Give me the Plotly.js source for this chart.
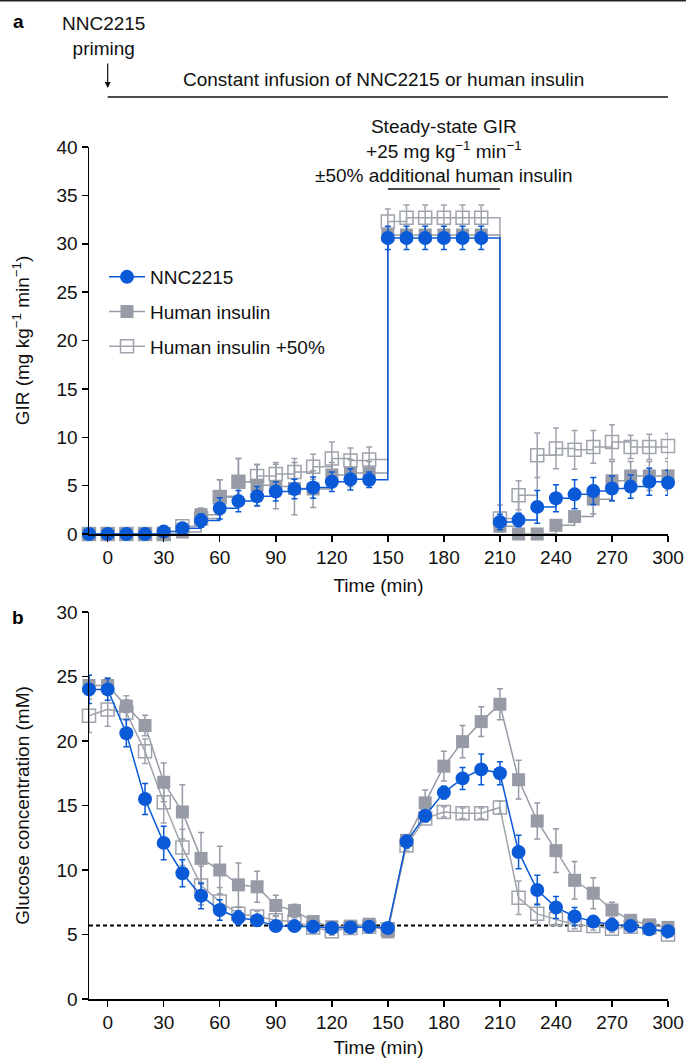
<!DOCTYPE html>
<html>
<head>
<meta charset="utf-8">
<script src="https://cdn.plot.ly/plotly-3.0.1.min.js"></script>
<style>
  html, body { margin: 0; padding: 0; background: #fff; }
  #chart { width: 686px; height: 1058px; }
</style>
</head>
<body>
<div id="chart"></div>
<script>
// Sampling times (min), shared by both panels
const timeMin = [-10, 0, 10, 20, 30, 40, 50, 60, 70, 80, 90, 100, 110, 120, 130, 140,
                 150, 160, 170, 180, 190, 200, 210, 220, 230, 240, 250, 260, 270, 280, 290, 300];

// Panel a: glucose infusion rate (mg kg-1 min-1), mean and error
const girNNC = [0, 0, 0, 0, 0.25, 0.6, 1.4, 2.65, 3.4, 3.9, 4.4, 4.65, 4.8, 5.4, 5.65, 5.6,
                30.6, 30.6, 30.6, 30.6, 30.6, 30.6, 1.25, 1.45, 2.8, 3.7, 4.1, 4.45, 4.7, 4.9, 5.4, 5.3];
const girNNCErr = [0, 0, 0, 0, 0.2, 0.4, 0.7, 1.1, 1.1, 1.0, 1.0, 1.0, 1.1, 1.0, 1.1, 0.8,
                   1.2, 1.2, 1.2, 1.2, 1.2, 1.2, 0.8, 0.7, 1.7, 1.4, 1.5, 1.4, 1.3, 1.2, 1.4, 1.3];
const girHI = [0, 0, 0, 0, 0, 0.2, 2.0, 3.9, 5.4, 5.05, 4.9, 4.7, 4.65, 6.1, 6.3, 6.3,
               30.9, 30.9, 30.9, 30.9, 30.9, 30.9, 0.8, 0, 0, 0.9, 1.8, 3.6, 5.5, 6.0, 6.0, 6.0];
const girHIErr = [0, 0, 0, 0, 0, 0.3, 0.7, 1.7, 2.4, 2.1, 2.3, 2.7, 1.9, 1.3, 1.4, 1.2,
                  0.5, 0.5, 0.5, 0.5, 0.5, 0.5, 0.5, 0.3, 0.3, 0.4, 0.5, 1.5, 2.0, 1.5, 1.5, 1.5];
const girHI50 = [0, 0, 0, 0, 0, 0.8, 1.6, 3.8, 5.4, 6.0, 6.2, 6.4, 6.95, 7.8, 7.6, 7.7,
                 32.3, 32.7, 32.7, 32.7, 32.7, 32.7, 1.6, 4.0, 8.15, 8.85, 8.7, 9.0, 9.5, 9.0, 9.0, 9.1];
const girHI50Err = [0, 0, 0, 0, 0, 0.3, 0.8, 1.8, 2.4, 1.2, 1.2, 1.4, 1.3, 1.7, 1.3, 1.3,
                    1.3, 1.3, 1.3, 1.3, 1.3, 1.3, 1.4, 1.5, 2.3, 2.1, 2.0, 1.7, 1.8, 1.2, 1.3, 1.3];

// Panel b: plasma glucose (mM), mean and error
const gluNNC = [24.0, 24.0, 20.6, 15.5, 12.1, 9.75, 8.0, 6.9, 6.3, 6.1, 5.65, 5.65, 5.6, 5.5, 5.55, 5.6,
                5.5, 12.2, 14.2, 16.0, 17.1, 17.8, 17.5, 11.4, 8.45, 7.1, 6.4, 6.0, 5.75, 5.65, 5.4, 5.25];
const gluNNCErr = [1.1, 0.85, 1.05, 1.2, 1.3, 1.05, 1.0, 0.8, 0.55, 0.3, 0.2, 0.2, 0.2, 0.2, 0.2, 0.2,
                   0.2, 0.5, 0.4, 0.5, 0.85, 1.2, 0.9, 1.3, 1.15, 0.85, 0.7, 0.4, 0.3, 0.3, 0.3, 0.3];
const gluHI = [24.3, 24.3, 22.7, 21.2, 16.8, 14.5, 10.9, 10.0, 8.85, 8.7, 7.25, 6.85, 6.0, 5.6, 5.65, 5.8,
               5.2, 12.3, 15.2, 18.05, 19.95, 21.5, 22.85, 17.0, 13.8, 11.5, 9.2, 8.2, 6.9, 6.1, 5.75, 5.55];
const gluHIErr = [0.8, 0.6, 0.5, 0.8, 1.5, 2.1, 2.0, 1.85, 1.7, 1.2, 0.8, 0.5, 0.4, 0.3, 0.3, 0.3,
                  0.4, 0.4, 1.0, 1.15, 1.25, 1.15, 1.2, 1.5, 1.4, 1.7, 1.45, 1.2, 0.6, 0.4, 0.3, 0.3];
const gluHI50 = [21.95, 22.45, 22.2, 19.2, 15.25, 11.75, 8.8, 7.55, 6.6, 6.4, 6.1, 6.0, 5.55, 5.25, 5.5, 5.6,
                 5.4, 11.9, 14.0, 14.5, 14.4, 14.4, 14.85, 7.85, 6.6, 6.2, 5.75, 5.65, 5.45, 5.6, 5.55, 5.0];
const gluHI50Err = [1.3, 1.3, 1.3, 0.95, 1.6, 1.4, 1.5, 1.1, 0.5, 0.4, 0.3, 0.3, 0.3, 0.3, 0.3, 0.3,
                    0.3, 0.4, 0.3, 0.4, 0.4, 0.4, 0.5, 1.3, 0.8, 0.4, 0.3, 0.3, 0.3, 0.3, 0.3, 0.3];

// Euglycaemic target level (mM)
const targetGlucose = 5.7;

const seriesNames = ['NNC2215', 'Human insulin', 'Human insulin +50%'];
const xTicks = [0, 30, 60, 90, 120, 150, 180, 210, 240, 270, 300];

// ---- styling ----
const FONT = 'Liberation Sans, Arial, Helvetica, sans-serif';
const FS = 19;
const BLUE = '#0a5ad8';
const GREY = '#979ba6';
const GREY_OPEN = '#9fa3ad';

const W = 686, H = 1058;
const M = {l: 89, r: 18, t: 147, b: 59};
const plotW = W - M.l - M.r, plotH = H - M.t - M.b;
// pixel -> paper helpers for the decorations
const px = x => (x - M.l) / plotW;
const py = y => (H - M.b - y) / plotH;

function series(name, x, y, err, xa, ya, opts) {
  return Object.assign({
    type: 'scatter', mode: 'lines+markers', name: name,
    x: x, y: y, xaxis: xa, yaxis: ya, cliponaxis: false,
    legendgroup: name,
    error_y: {type: 'data', array: err, visible: true, thickness: 1.5, width: 3}
  }, opts);
}

const styles = {
  'NNC2215': {
    line: {color: BLUE, width: 1.5},
    marker: {symbol: 'circle', size: 14, color: BLUE, line: {width: 0}},
    errColor: BLUE, rank: 1
  },
  'Human insulin': {
    line: {color: GREY, width: 1.5},
    marker: {symbol: 'square', size: 13, color: GREY, line: {width: 0}},
    errColor: GREY, rank: 2
  },
  'Human insulin +50%': {
    line: {color: GREY_OPEN, width: 1.5},
    marker: {symbol: 'square-open', size: 13, color: GREY_OPEN, line: {width: 1.5, color: GREY_OPEN}},
    errColor: GREY_OPEN, rank: 3
  }
};

function build(name, x, y, err, xa, ya, shape, legend) {
  const s = styles[name];
  const tr = series(name, x, y, err, xa, ya, {
    line: Object.assign({shape: shape}, s.line),
    marker: s.marker,
    showlegend: legend,
    legendrank: s.rank
  });
  tr.error_y.color = s.errColor;
  return tr;
}

// draw order: open squares, filled squares, circles on top
const data = [
  build(seriesNames[2], timeMin, girHI50, girHI50Err, 'x', 'y', 'hv', true),
  build(seriesNames[1], timeMin, girHI, girHIErr, 'x', 'y', 'hv', true),
  build(seriesNames[0], timeMin, girNNC, girNNCErr, 'x', 'y', 'hv', true),
  build(seriesNames[2], timeMin, gluHI50, gluHI50Err, 'x2', 'y2', 'linear', false),
  build(seriesNames[1], timeMin, gluHI, gluHIErr, 'x2', 'y2', 'linear', false),
  build(seriesNames[0], timeMin, gluNNC, gluNNCErr, 'x2', 'y2', 'linear', false)
];

const tickFont = {family: FONT, size: FS, color: '#111'};
const titleFont = {family: FONT, size: FS, color: '#111'};

function xAxis(anchor) {
  return {
    anchor: anchor, domain: [0, 1], range: [-10, 300],
    tickmode: 'array', tickvals: xTicks,
    ticks: 'outside', ticklen: 6, tickwidth: 1.5, tickcolor: '#000',
    showline: true, linecolor: '#000', linewidth: 1.5,
    showgrid: false, zeroline: false, tickfont: tickFont,
    title: {text: 'Time (min)', font: titleFont, standoff: 11},
    automargin: false
  };
}
function yAxis(anchor, domain, max, title) {
  return {
    anchor: anchor, domain: domain, range: [0, max], dtick: 5, tick0: 0,
    ticks: 'outside', ticklen: 6, tickwidth: 1.5, tickcolor: '#000',
    showline: true, linecolor: '#000', linewidth: 1.5,
    showgrid: false, zeroline: false, tickfont: tickFont,
    title: {text: title, font: titleFont, standoff: 22},
    automargin: false
  };
}

const annFont = {family: FONT, size: FS, color: '#111'};
const layout = {
  width: W, height: H,
  margin: M,
  paper_bgcolor: '#fff', plot_bgcolor: '#fff',
  font: {family: FONT, size: FS, color: '#111'},
  xaxis: xAxis('y'),
  yaxis: yAxis('x', [py(534), 1], 40, 'GIR (mg kg<sup>−1</sup> min<sup>−1</sup>)'),
  xaxis2: xAxis('y2'),
  yaxis2: yAxis('x2', [0, py(612)], 30, 'Glucose concentration (mM)'),
  showlegend: true,
  legend: {
    x: px(104), y: py(258), xanchor: 'left', yanchor: 'top',
    bgcolor: 'rgba(0,0,0,0)', font: {family: FONT, size: FS, color: '#111'},
    itemwidth: 36, tracegroupgap: 7, itemclick: false
  },
  shapes: [
    // rule along the top edge
    {type: 'line', xref: 'paper', yref: 'paper', x0: px(0), x1: px(W), y0: py(0.7), y1: py(0.7),
     line: {color: '#222', width: 1.5}},
    // infusion period
    {type: 'line', xref: 'x', yref: 'paper', x0: 0, x1: 300, y0: py(97), y1: py(97),
     line: {color: '#111', width: 1.3}},
    // steady-state window
    {type: 'line', xref: 'x', yref: 'paper', x0: 150, x1: 210, y0: py(189), y1: py(189),
     line: {color: '#111', width: 1.3}},
    // target glucose level
    {type: 'line', xref: 'x2', yref: 'y2', x0: -10, x1: 300, y0: targetGlucose, y1: targetGlucose,
     line: {color: '#000', width: 2, dash: '4px,3px'}, layer: 'below'}
  ],
  annotations: [
    {text: '<b>a</b>', xref: 'paper', yref: 'paper', x: px(18), y: py(22), showarrow: false,
     font: {family: FONT, size: 19, color: '#000'}, xanchor: 'center', yanchor: 'middle'},
    {text: '<b>b</b>', xref: 'paper', yref: 'paper', x: px(18), y: py(617), showarrow: false,
     font: {family: FONT, size: 19, color: '#000'}, xanchor: 'center', yanchor: 'middle'},
    {text: 'NNC2215<br>priming', xref: 'paper', yref: 'paper', x: px(103), y: py(36), showarrow: false,
     font: annFont, xanchor: 'center', yanchor: 'middle'},
    {text: '', xref: 'x', yref: 'paper', x: 0, y: py(88), ax: 0, ay: -26, showarrow: true,
     arrowhead: 2, arrowsize: 1, arrowwidth: 1.2, arrowcolor: '#111'},
    {text: 'Constant infusion of NNC2215 or human insulin', xref: 'paper', yref: 'paper',
     x: px(383), y: py(80), showarrow: false, font: annFont, xanchor: 'center', yanchor: 'middle'},
    {text: 'Steady-state GIR<br>+25 mg kg<sup>−1</sup> min<sup>−1</sup><br>±50% additional human insulin',
     xref: 'paper', yref: 'paper', x: px(444), y: py(151), showarrow: false, font: annFont,
     xanchor: 'center', yanchor: 'middle'}
  ]
};

Plotly.newPlot('chart', data, layout, {displayModeBar: false, staticPlot: true});
</script>
</body>
</html>
